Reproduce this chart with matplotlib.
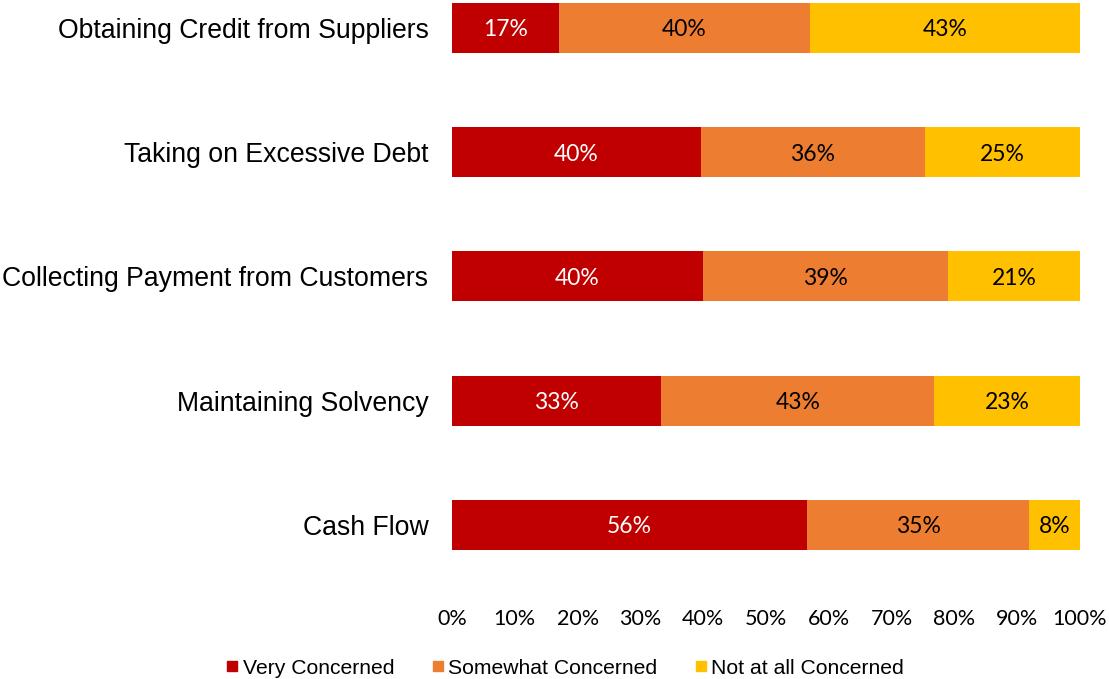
import matplotlib
matplotlib.use("Agg")
import matplotlib.pyplot as plt
from matplotlib.lines import Line2D
import numpy as np

# Survey results, listed bottom to top
categories = ["Cash Flow", "Maintaining Solvency", "Collecting Payment from Customers",
              "Taking on Excessive Debt", "Obtaining Credit from Suppliers"]
very_concerned = [56, 33, 40, 40, 17]
somewhat_concerned = [35, 43, 39, 36, 40]
not_concerned = [8, 23, 21, 25, 43]

series_names = ["Very Concerned", "Somewhat Concerned", "Not at all Concerned"]
colors = ["#C00000", "#ED7D31", "#FFC000"]
label_colors = ["white", "black", "black"]
x_ticks = [0, 10, 20, 30, 40, 50, 60, 70, 80, 90, 100]

W, H = 1109, 679
fig = plt.figure(figsize=(W / 100, H / 100), dpi=100)
ax = fig.add_axes([452 / W, 1 - 587 / H, (1080 - 452) / W, 587 / H])

series = np.array([very_concerned, somewhat_concerned, not_concerned], dtype=float)
shares = series / series.sum(axis=0) * 100  # 100% stacked
y = np.arange(len(categories))
left = np.zeros(len(categories))
for vals, share, name, col, lcol in zip(series, shares, series_names, colors, label_colors):
    ax.barh(y, share, left=left, height=0.402, color=col, label=name, linewidth=0)
    for yi, l, s, v in zip(y, left, share, vals):
        ax.text(l + s / 2, yi, f"{int(v)}%", ha="center", va="center_baseline",
                color=lcol, fontsize=16.5, family="Lato")
    left += share

ax.set_xlim(0, 100)
ax.set_ylim(-0.5, 4.225)
ax.set_xticks(x_ticks)
ax.set_xticklabels([f"{t}%" for t in x_ticks], family="Lato", fontsize=15.5, color="black")
ax.set_yticks(y)
ax.set_yticklabels(categories, family="Liberation Sans", fontsize=19.2, color="black")
ax.tick_params(axis="x", length=0, pad=16)
ax.tick_params(axis="y", length=0, pad=17)
for sp in ax.spines.values():
    sp.set_visible(False)

handles = [Line2D([], [], marker="s", linestyle="none", markersize=7.5, color=c) for c in colors]
fig.legend(handles, series_names, loc="center", bbox_to_anchor=(565 / W, 1 - 668 / H),
           ncol=3, frameon=False, handlelength=0.6, handletextpad=0.2, columnspacing=1.75,
           prop={"family": "Liberation Sans", "size": 15.2})

fig.savefig("out.png", dpi=100)
